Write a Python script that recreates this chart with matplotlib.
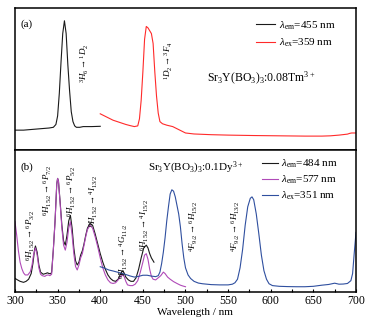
"""Excitation / emission spectra of Sr3Y(BO3)3:Tm3+ and Sr3Y(BO3)3:Dy3+ (two stacked panels)."""
import numpy as np
import matplotlib
matplotlib.use('Agg')
import matplotlib.pyplot as plt
from matplotlib.ticker import MultipleLocator

plt.rcParams['font.family'] = ['Liberation Serif', 'DejaVu Serif']
plt.rcParams['mathtext.fontset'] = 'custom'
plt.rcParams['mathtext.rm'] = 'Liberation Serif'
plt.rcParams['mathtext.it'] = 'Liberation Serif:italic'
plt.rcParams['mathtext.bf'] = 'Liberation Serif:bold'

# ---- panel (a): Tm3+ ----
tm_ex_wl = [300, 310, 320, 330, 340, 345, 348, 350, 352, 354, 356, 358, 360, 362, 364,
            366, 368, 370, 372, 376, 380, 390, 400]
tm_ex_int = [0.14, 0.14, 0.145, 0.15, 0.155, 0.16, 0.18, 0.24, 0.40, 0.62, 0.82, 0.91, 0.82,
             0.60, 0.42, 0.27, 0.20, 0.17, 0.16, 0.16, 0.165, 0.165, 0.167]

tm_em_wl = [400, 405, 410, 415, 420, 425, 430, 435, 440, 444, 446, 448, 450, 452, 454, 456,
            458, 460, 462, 464, 466, 468, 470, 473, 478, 485, 490, 495, 500, 510, 530, 550,
            580, 610, 640, 660, 670, 680, 690, 693, 695, 700]
tm_em_int = [0.255, 0.24, 0.225, 0.21, 0.20, 0.19, 0.18, 0.172, 0.165, 0.17, 0.22, 0.35, 0.55,
             0.78, 0.87, 0.86, 0.84, 0.82, 0.75, 0.55, 0.38, 0.26, 0.20, 0.185, 0.175, 0.165,
             0.15, 0.135, 0.12, 0.113, 0.108, 0.105, 0.102, 0.10, 0.098, 0.098, 0.10, 0.105,
             0.112, 0.118, 0.12, 0.12]

# ---- panel (b): Dy3+ ----
dy_ex484_wl = [300, 303, 306, 310, 313, 316, 319, 321, 323, 324, 326, 328, 330, 333, 336, 338,
               340, 342, 343, 345, 347, 349, 350, 351, 353, 355, 357, 359, 361, 363, 365, 367,
               369, 371, 373, 375, 377, 379, 381, 383, 385, 388, 391, 394, 397, 400, 403, 406,
               409, 412, 415, 418, 421, 424, 426, 428, 430, 433, 436, 439, 442, 445, 448, 451,
               454, 456, 458, 460, 463]
dy_ex484_int = [0.096, 0.085, 0.075, 0.068, 0.075, 0.09, 0.13, 0.20, 0.30, 0.324, 0.28, 0.19,
                0.14, 0.125, 0.13, 0.135, 0.13, 0.128, 0.14, 0.30, 0.50, 0.76, 0.80, 0.78, 0.63,
                0.47, 0.36, 0.33, 0.40, 0.50, 0.54, 0.45, 0.31, 0.22, 0.19, 0.21, 0.26, 0.29,
                0.34, 0.40, 0.45, 0.484, 0.47, 0.41, 0.34, 0.27, 0.21, 0.16, 0.12, 0.095, 0.08,
                0.075, 0.09, 0.13, 0.148, 0.135, 0.105, 0.085, 0.075, 0.075, 0.10, 0.16, 0.24,
                0.31, 0.33, 0.31, 0.27, 0.24, 0.21]

dy_ex577_wl = [300, 302, 304, 306, 308, 310, 312, 315, 318, 320, 322, 324, 326, 328, 330, 332,
               335, 337, 339, 341, 343, 345, 347, 349, 350, 351, 353, 355, 357, 359, 361, 363,
               365, 367, 369, 371, 373, 375, 377, 379, 381, 383, 385, 388, 391, 394, 397, 400,
               403, 406, 409, 412, 415, 418, 421, 424, 426, 428, 430, 432, 435, 438, 441, 444,
               447, 450, 452, 454, 456, 458, 460, 462, 465, 468, 471, 474, 476, 479, 482, 486,
               490, 494, 497, 500]
dy_ex577_int = [0.495, 0.40, 0.29, 0.21, 0.165, 0.135, 0.12, 0.12, 0.143, 0.19, 0.27, 0.31,
                0.26, 0.17, 0.125, 0.115, 0.11, 0.118, 0.12, 0.115, 0.125, 0.30, 0.50, 0.76,
                0.80, 0.78, 0.62, 0.45, 0.33, 0.295, 0.35, 0.45, 0.495, 0.40, 0.27, 0.18, 0.155,
                0.19, 0.24, 0.27, 0.33, 0.39, 0.44, 0.47, 0.45, 0.39, 0.32, 0.24, 0.17, 0.12,
                0.085, 0.065, 0.06, 0.065, 0.085, 0.11, 0.12, 0.11, 0.075, 0.05, 0.045, 0.045,
                0.055, 0.08, 0.14, 0.21, 0.26, 0.27, 0.23, 0.16, 0.11, 0.09, 0.085, 0.10, 0.115,
                0.14, 0.13, 0.105, 0.09, 0.073, 0.06, 0.048, 0.042, 0.037]

dy_em_wl = [400, 405, 410, 415, 420, 425, 430, 435, 440, 445, 450, 455, 460, 465, 468, 470,
            472, 474, 476, 478, 480, 482, 484, 486, 488, 490, 492, 494, 496, 498, 500, 503,
            506, 510, 515, 520, 530, 540, 550, 555, 558, 561, 564, 567, 570, 573, 576, 578,
            580, 583, 586, 589, 592, 595, 598, 602, 610, 620, 630, 640, 650, 660, 668, 675,
            680, 685, 690, 694, 696, 698, 700]
dy_em_int = [0.178, 0.168, 0.155, 0.148, 0.14, 0.132, 0.123, 0.113, 0.105, 0.11, 0.118, 0.118,
             0.112, 0.108, 0.115, 0.14, 0.20, 0.28, 0.38, 0.50, 0.60, 0.69, 0.72, 0.71, 0.67,
             0.61, 0.55, 0.46, 0.34, 0.24, 0.17, 0.12, 0.095, 0.075, 0.063, 0.058, 0.052, 0.05,
             0.05, 0.055, 0.065, 0.09, 0.17, 0.30, 0.47, 0.60, 0.66, 0.67, 0.65, 0.55, 0.41,
             0.26, 0.15, 0.09, 0.058, 0.045, 0.04, 0.038, 0.037, 0.037, 0.04, 0.048, 0.053,
             0.062, 0.055, 0.056, 0.06, 0.08, 0.13, 0.28, 0.42]

x_ticks = [300, 350, 400, 450, 500, 550, 600, 650, 700]

# transition labels (text, x, y) for panel b
dy_labels = [
    (r'$^6H_{15/2}\rightarrow{}^6P_{3/2}$', 319, 0.40),
    (r'$^6H_{15/2}\rightarrow{}^6P_{7/2}$', 339, 0.72),
    (r'$^6H_{15/2}\rightarrow{}^6P_{5/2}$', 367, 0.71),
    (r'$^6H_{15/2}\rightarrow{}^4I_{13/2}$', 392, 0.64),
    (r'$^6H_{15/2}\rightarrow{}^4G_{11/2}$', 428, 0.285),
    (r'$^6H_{15/2}\rightarrow{}^4I_{15/2}$', 452.5, 0.475),
    (r'$^4F_{9/2}\rightarrow{}^6H_{15/2}$', 510, 0.465),
    (r'$^4F_{9/2}\rightarrow{}^6H_{13/2}$', 559, 0.46),
]

fig = plt.figure(figsize=(3.71, 3.29), dpi=100)
ax1 = fig.add_axes([0.0404, 0.544, 0.9192, 0.4317])
ax2 = fig.add_axes([0.0404, 0.1125, 0.9192, 0.4315], sharex=ax1)

lw = 0.8
ax1.plot(tm_ex_wl, tm_ex_int, color='#1a1a1a', lw=lw, label=r'$\lambda_{\rm em}$=455 nm')
ax1.plot(tm_em_wl, tm_em_int, color='#ff2a2a', lw=lw, label=r'$\lambda_{\rm ex}$=359 nm')
ax1.set_ylim(0, 1)
ax1.set_yticks([])
ax1.tick_params(axis='x', which='both', bottom=False, labelbottom=False)
ax1.text(0.015, 0.87, '(a)', transform=ax1.transAxes, fontsize=8)
ax1.text(382, 0.61, r'$^3H_6\rightarrow{}^1D_2$', rotation=90, ha='center', va='center', fontsize=6.5)
ax1.text(480.5, 0.63, r'$^1D_2\rightarrow{}^3F_4$', rotation=90, ha='center', va='center', fontsize=6.5)
ax1.text(0.562, 0.48, r'Sr$_3$Y(BO$_3$)$_3$:0.08Tm$^{3+}$', transform=ax1.transAxes, fontsize=8.5)
ax1.legend(loc='upper left', bbox_to_anchor=(0.708, 0.92), frameon=False, fontsize=8,
           handlelength=1.7, handletextpad=0.3, borderpad=0, borderaxespad=0, labelspacing=0.45)

ax2.plot(dy_ex484_wl, dy_ex484_int, color='#1a1a1a', lw=lw, label=r'$\lambda_{\rm em}$=484 nm')
ax2.plot(dy_ex577_wl, dy_ex577_int, color='#b04ab8', lw=lw, label=r'$\lambda_{\rm em}$=577 nm')
ax2.plot(dy_em_wl, dy_em_int, color='#2f4f9f', lw=lw, label=r'$\lambda_{\rm ex}$=351 nm')
ax2.set_ylim(0, 1)
ax2.set_xlim(300, 700)
ax2.set_yticks([])
ax2.set_xticks(x_ticks)
ax2.xaxis.set_minor_locator(MultipleLocator(25))
ax2.tick_params(axis='x', which='both', direction='in', length=2.5, width=0.8, labelsize=8.5, pad=2)
ax2.set_xlabel('Wavelength / nm', fontsize=8, labelpad=2)
ax2.xaxis.set_label_coords(0.528, -0.115)
ax2.text(0.015, 0.86, '(b)', transform=ax2.transAxes, fontsize=8)
ax2.text(0.39, 0.855, r'Sr$_3$Y(BO$_3$)$_3$:0.1Dy$^{3+}$', transform=ax2.transAxes, fontsize=8)
for txt, xx, yy in dy_labels:
    ax2.text(xx, yy, txt, rotation=90, ha='center', va='center', fontsize=6.5)
ax2.legend(loc='upper left', bbox_to_anchor=(0.725, 0.945), frameon=False, fontsize=8,
           handlelength=1.4, handletextpad=0.3, borderpad=0, borderaxespad=0, labelspacing=0.3)

for ax in (ax1, ax2):
    for sp in ax.spines.values():
        sp.set_linewidth(1.1)

fig.savefig('out.png', dpi=100)
